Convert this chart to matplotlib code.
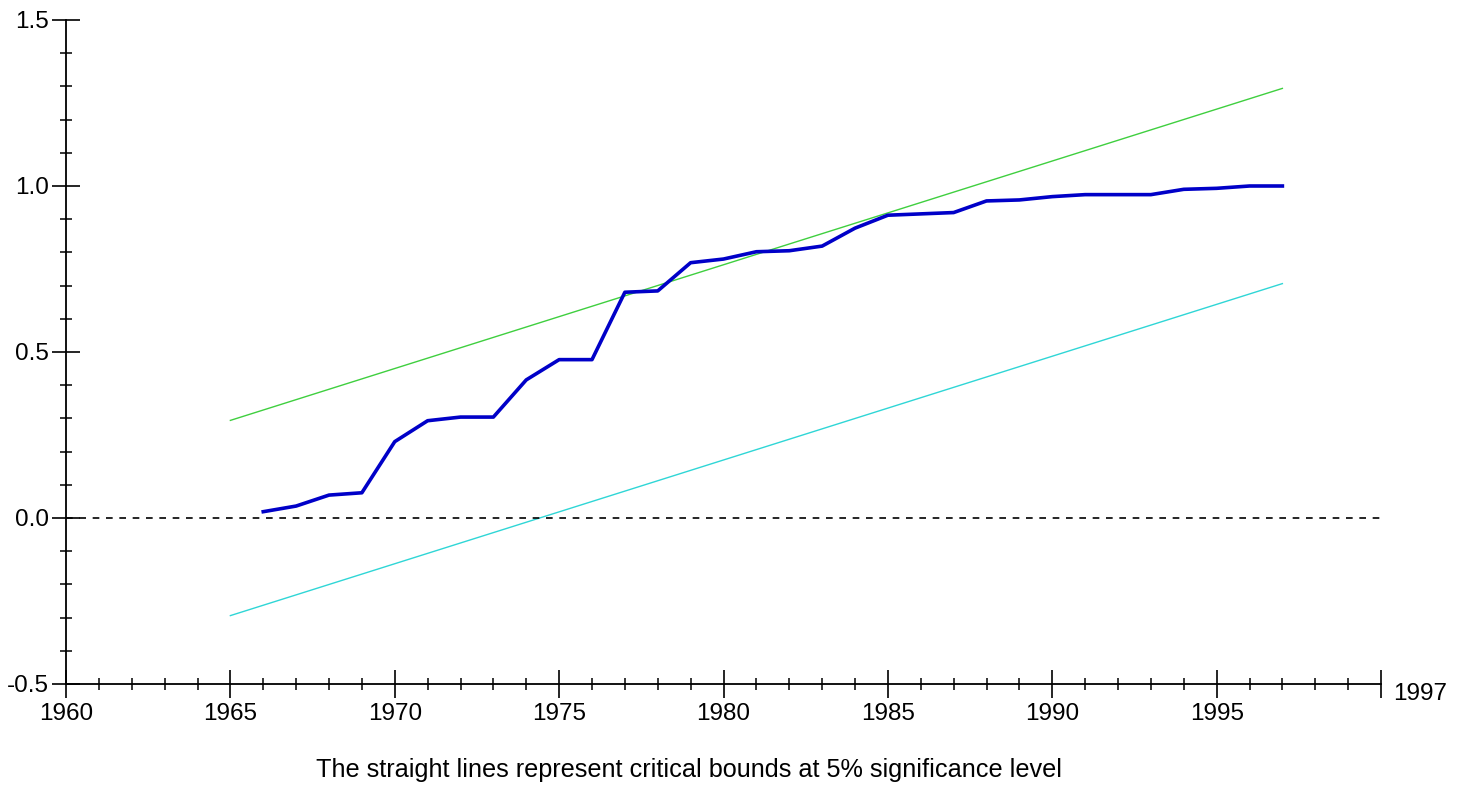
import matplotlib.pyplot as plt
from matplotlib.ticker import MultipleLocator

# CUSUM of squares, annual
years = list(range(1966, 1998))
cusumsq = [0.019, 0.036, 0.069, 0.076, 0.230, 0.293, 0.304, 0.304, 0.416, 0.477,
           0.477, 0.680, 0.684, 0.769, 0.780, 0.802, 0.805, 0.819, 0.873, 0.912,
           0.916, 0.920, 0.955, 0.958, 0.968, 0.974, 0.974, 0.974, 0.990, 0.993,
           1.000, 1.000]

# critical bounds (5%)
bound_years = [1965, 1997]
upper = [0.294, 1.294]
lower = [-0.294, 0.706]

xticks = [1960, 1965, 1970, 1975, 1980, 1985, 1990, 1995]
yticks = [-0.5, 0.0, 0.5, 1.0, 1.5]

plt.rcParams['font.family'] = ['Liberation Sans', 'DejaVu Sans']

fig = plt.figure(figsize=(14.72, 7.87), dpi=100)
ax = fig.add_axes([66 / 1472, 1 - 684 / 787, (1381 - 66) / 1472, (684 - 20) / 787])

ax.plot(bound_years, upper, color='#3fcf3f', lw=1.0)
ax.plot(bound_years, lower, color='#2fd6d6', lw=1.0)
ax.axhline(0, color='black', lw=1.2, ls=(0, (4, 4)))
ax.plot(years, cusumsq, color='#0000c8', lw=2.6)

ax.set_xlim(1960, 2000)
ax.set_ylim(-0.5, 1.5)
ax.set_xticks(xticks + [2000])
ax.set_xticklabels([str(x) for x in xticks] + [''])
ax.xaxis.set_minor_locator(MultipleLocator(1))
ax.set_yticks(yticks)
ax.set_yticklabels(['%.1f' % y for y in yticks])
ax.yaxis.set_minor_locator(MultipleLocator(0.1))

for s in ['top', 'right']:
    ax.spines[s].set_visible(False)
for s in ['left', 'bottom']:
    ax.spines[s].set_linewidth(1.3)

ax.tick_params(which='major', direction='inout', length=20, width=1.2,
               labelsize=17.5, pad=2, colors='black')
ax.tick_params(which='minor', direction='inout', length=9, width=1.1)
ax.tick_params(axis='x', which='major', pad=4)

ax.annotate('1997', xy=(2000, -0.5), xytext=(28, -7), textcoords='offset points',
            ha='center', va='center', fontsize=17.5, annotation_clip=False)

fig.text(689 / 1472, 1 - 770 / 787,
         'The straight lines represent critical bounds at 5% significance level',
         ha='center', va='center', fontsize=18.2)

fig.savefig('out.png', dpi=100, facecolor='white')
